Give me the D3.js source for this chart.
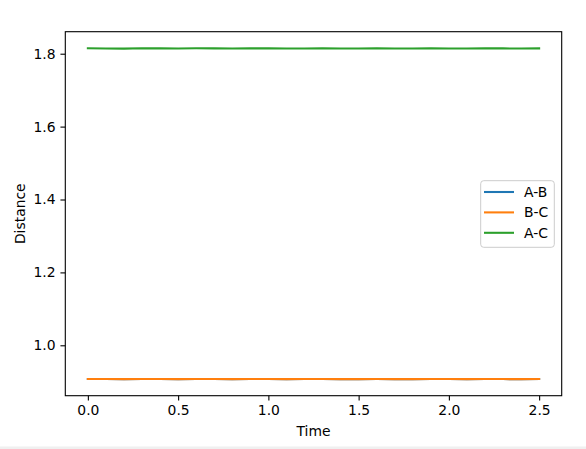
<!DOCTYPE html>
<html>
<head>
<meta charset="utf-8">
<script src="https://cdn.jsdelivr.net/npm/d3@7"></script>
<style>
  html, body { margin: 0; padding: 0; background: #fff; }
  svg { display: block; font-family: "DejaVu Sans", sans-serif; }
</style>
</head>
<body>
<svg id="chart" width="586" height="449"></svg>
<script>
// ---- data ----
const time = [0.0,0.1,0.2,0.3,0.4,0.5,0.6,0.7,0.8,0.9,1.0,1.1,1.2,1.3,1.4,1.5,1.6,1.7,1.8,1.9,2.0,2.1,2.2,2.3,2.4,2.5];
const distAB = [0.9076,0.9073,0.9071,0.9075,0.9074,0.9071,0.9075,0.9074,0.9071,0.9073,0.9075,0.9071,0.9073,0.9075,0.9072,0.9072,0.9075,0.9072,0.9071,0.9075,0.9073,0.9071,0.9075,0.9073,0.9071,0.9074];
const distBC = [0.9076,0.9073,0.9071,0.9075,0.9074,0.9071,0.9075,0.9074,0.9071,0.9073,0.9075,0.9071,0.9073,0.9075,0.9072,0.9072,0.9075,0.9072,0.9071,0.9075,0.9073,0.9071,0.9075,0.9073,0.9071,0.9074];
const distAC = [1.8150,1.8145,1.8140,1.8149,1.8146,1.8141,1.8148,1.8147,1.8141,1.8146,1.8149,1.8141,1.8145,1.8150,1.8142,1.8143,1.8150,1.8143,1.8142,1.8150,1.8145,1.8141,1.8149,1.8146,1.8141,1.8147];
const seriesNames = ["A-B", "B-C", "A-C"];
const seriesColors = ["#1f77b4", "#ff7f0e", "#2ca02c"];
const xTicks = [0.0, 0.5, 1.0, 1.5, 2.0, 2.5];
const yTicks = [1.0, 1.2, 1.4, 1.6, 1.8];
const xLabel = "Time";
const yLabel = "Distance";

// ---- layout ----
const svg = d3.select("#chart");
const L = 65.3, R = 561.7, T = 31.7, B = 395.7;
const fs = 13.9;

const x = d3.scaleLinear().domain([-0.125, 2.625]).range([L, R]);
const yMin = 0.9071, yMax = 1.8150, pad = (yMax - yMin) * 0.05;
const y = d3.scaleLinear().domain([yMin - pad, yMax + pad]).range([B, T]);

const series = [distAB, distBC, distAC];

// lines
const line = d3.line().x((d, i) => x(time[i])).y(d => y(d));
const g = svg.append("g");
series.forEach((s, k) => {
  g.append("path").datum(s)
    .attr("fill", "none")
    .attr("stroke", seriesColors[k])
    .attr("stroke-width", 2.08)
    .attr("stroke-linecap", "square")
    .attr("d", line);
});

// axes
const xAxis = d3.axisBottom(x).tickValues(xTicks).tickFormat(d3.format(".1f")).tickSize(4.86).tickPadding(4.86);
const yAxis = d3.axisLeft(y).tickValues(yTicks).tickFormat(d3.format(".1f")).tickSize(4.86).tickPadding(4.86);

const gx = svg.append("g").attr("transform", `translate(0,${B})`).call(xAxis);
const gy = svg.append("g").attr("transform", `translate(${L},0)`).call(yAxis);
[gx, gy].forEach(a => {
  a.select(".domain").remove();
  a.selectAll(".tick line").attr("stroke", "#000").attr("stroke-width", 1.1);
  a.selectAll(".tick text").attr("fill", "#000").attr("font-size", fs).attr("font-family", "DejaVu Sans");
});

// frame
svg.append("rect").attr("x", L).attr("y", T).attr("width", R - L).attr("height", B - T)
  .attr("fill", "none").attr("stroke", "#000").attr("stroke-width", 1.1);

// axis labels
svg.append("text").attr("x", (L + R) / 2).attr("y", 436).attr("text-anchor", "middle")
  .attr("font-size", fs).attr("fill", "#000").text(xLabel);
svg.append("text").attr("transform", `translate(25,${(T + B) / 2}) rotate(-90)`).attr("text-anchor", "middle")
  .attr("font-size", fs).attr("fill", "#000").text(yLabel);

// legend
const lg = svg.append("g");
lg.append("rect").attr("x", 480.7).attr("y", 180.7).attr("width", 73.6).attr("height", 66.6)
  .attr("rx", 3).attr("fill", "#fff").attr("fill-opacity", 0.8).attr("stroke", "#cccccc").attr("stroke-width", 1);
seriesNames.forEach((n, k) => {
  const yy = 192 + k * 20.4;
  lg.append("line").attr("x1", 484).attr("x2", 514).attr("y1", yy).attr("y2", yy)
    .attr("stroke", seriesColors[k]).attr("stroke-width", 2.08);
  lg.append("text").attr("x", 524).attr("y", yy).attr("dy", "0.35em")
    .attr("font-size", fs).attr("fill", "#000").text(n);
});

// faint bottom strip
svg.append("rect").attr("x", 0).attr("y", 446.5).attr("width", 586).attr("height", 2.5).attr("fill", "#f0f0f0");
</script>
</body>
</html>
